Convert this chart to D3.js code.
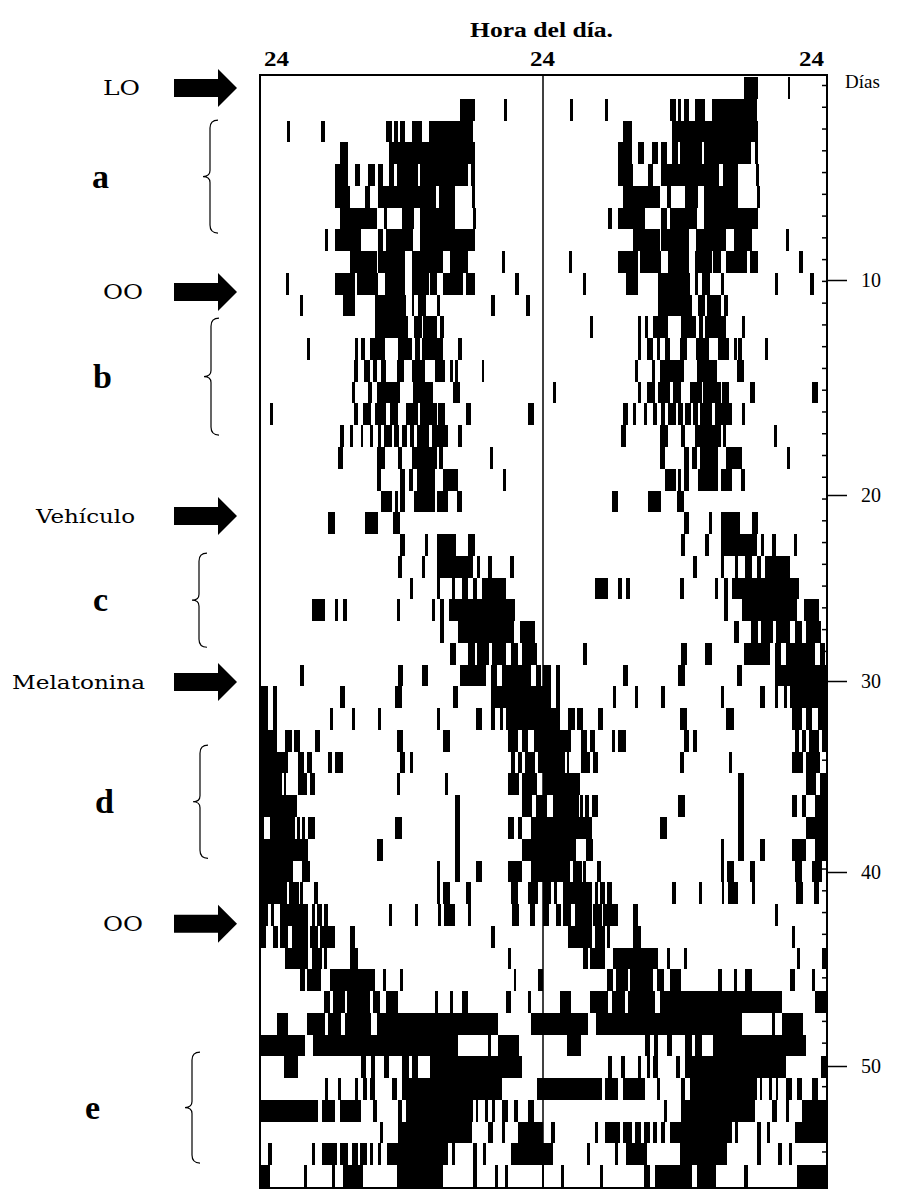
<!DOCTYPE html>
<html>
<head>
<meta charset="utf-8">
<script src="https://cdn.jsdelivr.net/npm/d3@7"></script>
<style>
body { margin: 0; background: #fff; }
</style>
</head>
<body>
<div id="chart"></div>
<script>
// activity bouts per day, in hours after midnight [start, end]
// row r shows day r on the left half and day r+1 on the right half
var activity = [
  [],
  [[16.95,18.2],[20.7,20.9]],
  [[2.3,2.55],[5.2,5.5],[10.7,11.2],[11.4,11.7],[11.9,12.3],[12.85,13.7],[14.3,18.1]],
  [[6.8,7.5],[10.9,18.2]],
  [[6.35,7.5],[8.05,8.5],[9.2,9.75],[10,10.45],[10.9,11.4],[11.6,13.4],[13.6,17.6],[17.9,18.2]],
  [[6.35,7.6],[8.9,9.3],[10,14.9],[15.2,16.5],[18,18.2]],
  [[6.8,9.9],[10.5,10.8],[12,13.1],[13.6,16.5],[18.1,18.3]],
  [[5.5,5.8],[6.35,8.6],[10,10.45],[10.7,13.0],[13.6,18.2]],
  [[7.6,9.9],[10,12.3],[12.9,15.5],[16.1,17.65],[20.5,20.8]],
  [[2.2,2.45],[6.35,8.05],[8.2,10],[10.6,12.3],[12.85,14.3],[14.4,15],[15.5,17.2],[17.5,18.2],[21.6,22]],
  [[3.4,3.6],[7.05,8.05],[9.75,12.4],[12.85,13.1],[13.4,14.1],[15,15.3],[19.6,19.9],[22.6,22.9]],
  [[9.75,12.55],[13.1,13.7],[13.85,15],[15.3,15.6]],
  [[4,4.2],[8.05,8.3],[8.6,8.9],[9.3,10.6],[11.7,12.9],[13.15,13.55],[13.7,15.5],[16.8,17.1]],
  [[8,8.3],[8.8,9.3],[9.6,9.9],[10.3,10.7],[11.6,12.2],[12.9,14.0],[14.8,15.7],[16.1,16.4],[16.5,16.8],[18.8,19.0]],
  [[7.8,8.05],[9.2,9.5],[9.9,11.9],[13,14.7],[16.4,17.0]],
  [[0.85,1.1],[8,8.3],[8.75,9.45],[9.75,10.7],[11,11.7],[12.4,13.4],[13.55,15],[15.1,15.7],[17.5,17.9],[22.7,23.2]],
  [[6.8,7.15],[7.6,7.9],[8.55,8.75],[9.3,9.6],[10.0,10.3],[10.55,11.2],[11.4,11.8],[12.0,12.5],[12.7,13.1],[13.3,14.3],[14.55,15.95],[16.8,17.1]],
  [[6.6,7.0],[9.9,10.6],[11.7,12.0],[12.85,15],[15.2,15.5],[19.5,19.8]],
  [[9.9,10.3],[11.9,12.3],[12.6,13.0],[13.3,14.8],[15.5,16.8],[20.6,20.9]],
  [[10.3,11.2],[11.45,11.7],[11.9,12.3],[13.1,14.8],[15.0,15.95],[16.7,17.1]],
  [[5.8,6.35],[8.9,10.0],[11.3,11.9]],
  [[11.9,12.3],[14,14.25],[15,16.65],[17.65,18.2]],
  [[11.7,12.0],[13.7,14.0],[15,18.1],[18.4,18.65],[19.35,19.65],[21.2,21.5]],
  [[12.7,13.0],[15,15.3],[16.25,16.5],[17.1,17.65],[18.1,18.4],[18.8,20.9]],
  [[4.4,5.5],[6.35,6.65],[7.05,7.35],[11.6,11.9],[14.55,14.8],[15.3,15.6],[16,21.6]],
  [[15.3,15.6],[16.8,21.5],[22.05,23.3]],
  [[16.1,16.6],[17.6,18.2],[18.4,19.4],[19.7,20.9],[21.3,21.9],[22.2,23.5]],
  [[3.4,3.7],[11.7,12.15],[13.7,14.25],[16.95,19.2],[19.6,20.1],[20.5,23.0],[23.4,23.8]],
  [[0,0.7],[1.1,1.4],[6.8,7.2],[11.45,12],[16.4,16.8],[19.6,24]],
  [[0,0.7],[1.1,1.4],[5.9,6.2],[7.8,8.05],[10,10.3],[15,15.3],[18.35,18.8],[19.6,19.9],[20.35,20.6],[20.9,24]],
  [[0,1.4],[2.1,2.7],[2.9,3.4],[4.65,5.1],[11.6,12.15],[15.5,16.1],[21.0,21.9],[22.2,22.75],[23.2,24]],
  [[0,2.4],[3.25,3.7],[3.95,4.4],[5.8,6.1],[6.35,7.05],[11.9,12.3],[12.7,13.0],[21.3,21.6],[21.9,22.2],[22.5,23.3],[23.6,24]],
  [[0,1.85],[2.0,2.2],[3.25,3.95],[4.25,4.65],[11.6,11.9],[15.7,15.95],[21,22],[22.2,23.45]],
  [[0,3.1],[16.5,16.95],[22.2,23.1],[23.4,24]],
  [[0,0.3],[0.85,3.0],[3.15,3.4],[3.55,3.85],[4.1,4.65],[11.45,12],[16.5,16.95],[21,21.5],[21.9,22.2],[23.0,24]],
  [[0,4.1],[9.9,10.45],[16.5,16.95],[22.2,24]],
  [[0,2.8],[3.6,4.25],[15,15.3],[16.5,16.95],[18.35,18.8],[21,22.2],[23,24]],
  [[0,2.3],[2.5,3.3],[3.4,3.6],[4.6,4.9],[15,15.3],[15.55,16.1],[17.5,17.9],[21.3,21.9],[22.75,23.6]],
  [[0,0.7],[0.9,1.2],[1.7,4.1],[4.4,4.65],[4.8,5.25],[5.4,5.8],[10.9,11.2],[13.15,13.4],[15.1,15.3],[15.6,16.5],[17.65,17.9],[21.35,22],[22.9,23.3]],
  [[0,0.5],[1.1,1.5],[1.7,2.4],[2.7,4.1],[4.25,4.95],[5.1,6.35],[7.6,8.05],[19.6,19.9]],
  [[2.1,4.1],[4.4,5.25],[5.4,5.7],[7.6,8.3],[21,21.3]],
  [[3.4,3.8],[3.95,5.2],[5.9,9.75],[10.45,10.7],[11.9,12.15],[21.5,21.75],[23.6,24]],
  [[5.4,5.95],[6.2,7.2],[7.35,9.3],[9.6,10.2],[10.7,11.7],[14.8,15.1],[16.1,16.4],[17.1,17.65],[20.9,21.3],[22.75,23.0]],
  [[1.4,2.4],[4,5.5],[5.8,6.9],[7.2,9.45],[9.9,20.2],[23,24]],
  [[0,3.8],[4.5,16.8],[19.35,19.6],[20.2,22.0]],
  [[2,3.25],[8.6,9.0],[9.4,9.75],[10.5,10.9],[12.0,12.6],[12.85,13.4],[14.4,22.2]],
  [[5.5,5.8],[6.6,6.9],[8.05,8.3],[8.75,9.05],[9.3,9.75],[11.2,11.6],[12.0,20.5],[23.5,24]],
  [[0,4.95],[5.25,6.35],[6.8,8.6],[9.6,9.9],[11.7,12.0],[12.4,18.1],[18.3,18.5],[19.1,19.35],[19.65,19.9],[20.5,21.05],[21.5,21.9],[22.75,23.2]],
  [[10.2,10.45],[11.7,17.95],[19.35,19.75],[20.5,20.75],[21.9,24]],
  [[0.7,1.0],[4.4,4.65],[5.25,6.5],[6.8,7.5],[7.8,8.3],[8.5,9.05],[9.3,9.6],[10.0,10.3],[10.75,15.95],[16.25,16.5],[18.1,18.4],[18.9,19.2],[21.3,24]],
  [[0,0.85],[3.7,4.0],[6.1,6.35],[7.05,8.75],[11.6,15.55],[18.1,18.4],[19.9,20.2],[20.75,21.05],[23.9,24]],
  [[1.5,1.8],[4.8,5.1],[8.5,9.0],[9.5,12.6],[13.0,14.6],[17.0,17.3],[21.5,24]]
];

var hourLabels = ["24", "24", "24"];
var dayLabels = [10, 20, 30, 40, 50];
var eventNames = ["LO", "OO", "Vehículo", "Melatonina", "OO"];
var eventDays = [0.5, 9.88, 20.17, 27.8, 38.9];
var phaseNames = ["a", "b", "c", "d", "e"];
var phaseStart = [1.98, 11.08, 21.88, 30.7, 44.8];
var phaseEnd = [7.17, 16.45, 26.2, 35.9, 49.9];

var width = 898, height = 1191;
var x0 = 260, xMid = 543, x1 = 827, y0 = 75, y1 = 1188;
var nRows = activity.length - 1;

var svg = d3.select("#chart")
  .append("svg")
  .attr("width", width)
  .attr("height", height)
  .style("font-family", "'Liberation Serif', 'DejaVu Serif', serif");

var xL = d3.scaleLinear().domain([0, 24]).range([x0, xMid]);
var xR = d3.scaleLinear().domain([0, 24]).range([xMid, x1]);
var yRow = d3.scaleLinear().domain([0, nRows]).range([77, 1187]);

// the printed day labels sit a little off the row grid in the scan
var yDay = d3.scaleLinear()
  .domain([1, 10, 20, 30, 40, 50])
  .range([85, 280, 495, 681, 872, 1066]);

// flatten bouts into marks for both halves
var marks = [];
for (var r = 0; r < nRows; r++) {
  activity[r].forEach(function (b) { marks.push({ row: r, s: b[0], e: b[1], x: xL }); });
  activity[r + 1].forEach(function (b) { marks.push({ row: r, s: b[0], e: b[1], x: xR }); });
}

svg.append("g")
  .attr("shape-rendering", "crispEdges")
  .selectAll("rect")
  .data(marks)
  .enter()
  .append("rect")
  .attr("x", function (d) { return d.x(d.s); })
  .attr("width", function (d) { return Math.max(2.5, d.x(d.e) - d.x(d.s)); })
  .attr("y", function (d) { return yRow(d.row); })
  .attr("height", function (d) { return yRow(d.row + 1) - yRow(d.row); })
  .attr("fill", "#000");

// frame and middle line
svg.append("rect")
  .attr("x", x0).attr("y", y0)
  .attr("width", x1 - x0).attr("height", y1 - y0)
  .attr("fill", "none").attr("stroke", "#000").attr("stroke-width", 2);
svg.append("line")
  .attr("x1", xMid).attr("x2", xMid).attr("y1", y0).attr("y2", y1)
  .attr("stroke", "#000").attr("stroke-width", 1.5);

// small day ticks on the right edge
var rowTick = d3.scaleLinear().domain([1, nRows]).range([yRow(0) + 8, yRow(nRows - 1) + 8]);
svg.append("g")
  .attr("transform", "translate(" + x1 + ",0)")
  .call(d3.axisLeft(rowTick).tickValues(d3.range(1, nRows + 1)).tickSize(5).tickFormat(""))
  .call(function (g) { g.select(".domain").remove(); })
  .selectAll("line").attr("stroke-width", 1.5);

// labelled day ticks
var dayAxis = svg.append("g")
  .attr("transform", "translate(" + x1 + ",0)")
  .call(d3.axisRight(yDay).tickValues(dayLabels).tickSize(20).tickPadding(14))
  .call(function (g) { g.select(".domain").remove(); });
dayAxis.selectAll("line").attr("stroke-width", 1.5);
dayAxis.selectAll("text")
  .attr("font-family", "'Liberation Serif', serif")
  .attr("font-size", 20)
  .attr("fill", "#000");

svg.append("text")
  .attr("x", 845).attr("y", 88)
  .attr("font-size", 19)
  .text("Días");

// hour labels
var hourX = [xL(0) + 4, xMid - 13, x1 - 28];
svg.selectAll(".hour")
  .data(hourLabels)
  .enter()
  .append("text")
  .attr("class", "hour")
  .attr("x", function (d, i) { return hourX[i]; })
  .attr("y", 66)
  .attr("font-size", 20)
  .attr("font-weight", "bold")
  .attr("textLength", 25)
  .attr("lengthAdjust", "spacingAndGlyphs")
  .text(function (d) { return d; });

svg.append("text")
  .attr("x", 470).attr("y", 37)
  .attr("font-size", 20)
  .attr("font-weight", "bold")
  .attr("textLength", 143)
  .attr("lengthAdjust", "spacingAndGlyphs")
  .text("Hora del día.");

// event arrows and labels
var eventX = [103, 103, 36, 12, 103];
var eventW = [37, 40, 99, 133, 40];
var ev = svg.selectAll(".event")
  .data(eventNames)
  .enter()
  .append("g")
  .attr("class", "event")
  .attr("transform", function (d, i) { return "translate(0," + yRow(eventDays[i]) + ")"; });
ev.append("path")
  .attr("d", "M174,-9 L218,-9 L218,-19 L237,0 L218,19 L218,9 L174,9 Z")
  .attr("fill", "#000");
ev.append("text")
  .attr("x", function (d, i) { return eventX[i]; })
  .attr("y", 7)
  .attr("font-family", "'DejaVu Serif', serif")
  .attr("font-size", function (d, i) { return i === 2 || i === 3 ? 18 : 20; })
  .attr("textLength", function (d, i) { return eventW[i]; })
  .attr("lengthAdjust", "spacingAndGlyphs")
  .text(function (d) { return d; });

// phase braces and letters
var braceX = [210, 211, 199, 200, 192];
var letterX = [92, 93, 93, 95, 85];
phaseNames.forEach(function (p, i) {
  var ya = yRow(phaseStart[i]), yb = yRow(phaseEnd[i]), ym = (ya + yb) / 2;
  var xm = braceX[i];
  var path = d3.path();
  path.moveTo(xm + 8, ya);
  path.quadraticCurveTo(xm, ya, xm, ya + 8);
  path.lineTo(xm, ym - 6);
  path.quadraticCurveTo(xm, ym, xm - 7, ym);
  path.quadraticCurveTo(xm, ym, xm, ym + 6);
  path.lineTo(xm, yb - 8);
  path.quadraticCurveTo(xm, yb, xm + 8, yb);
  svg.append("path")
    .attr("d", path.toString())
    .attr("fill", "none")
    .attr("stroke", "#000")
    .attr("stroke-width", 1.2);
  svg.append("text")
    .attr("x", letterX[i])
    .attr("y", ym + 11)
    .attr("font-size", 34)
    .attr("font-weight", "bold")
    .text(p);
});
</script>
</body>
</html>
